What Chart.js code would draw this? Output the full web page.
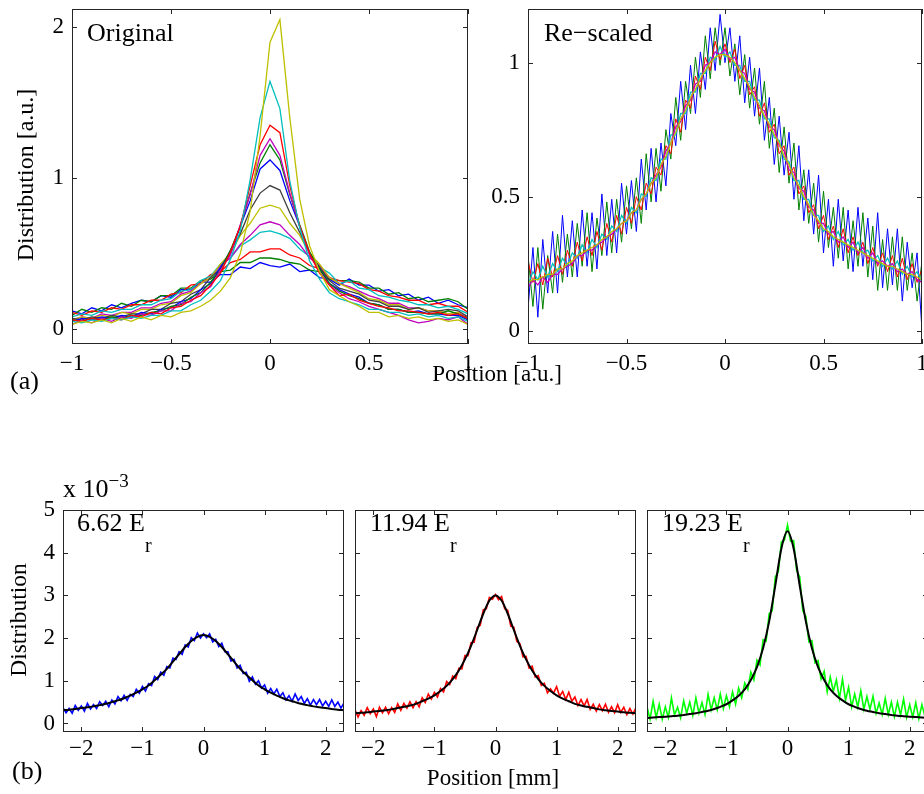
<!DOCTYPE html>
<html>
<head>
<meta charset="utf-8">
<script src="https://cdn.jsdelivr.net/npm/chart.js@4/dist/chart.umd.min.js"></script>
<style>
  html, body { margin: 0; padding: 0; overflow: hidden; background: #fff; }
  body { position: relative; width: 924px; height: 794px; font-family: 'Liberation Serif', 'Times New Roman', serif; color: #000; }
  canvas { position: absolute; }
  .t { position: absolute; white-space: nowrap; line-height: 1; }
  .rot { transform: translate(-50%, -50%) rotate(-90deg); }
  .mid { transform: translateX(-50%); }
</style>
</head>
<body>
<canvas id="c1"></canvas>
<canvas id="c2"></canvas>
<canvas id="c3"></canvas>
<canvas id="c4"></canvas>
<canvas id="c5"></canvas>

<div class="t" style="left:87px;top:20px;font-size:26px">Original</div>
<div class="t" style="left:544px;top:20px;font-size:26px">Re&minus;scaled</div>
<div class="t rot" style="left:25px;top:175px;font-size:24px">Distribution [a.u.]</div>
<div class="t mid" style="left:497px;top:362px;font-size:23px">Position [a.u.]</div>
<div class="t" style="left:10px;top:368px;font-size:26px">(a)</div>

<div class="t" style="left:63px;top:476px;font-size:26px">x 10<span style="font-size:19px;position:relative;top:-10px">&minus;3</span></div>
<div class="t" style="left:77px;top:510px;font-size:26px">6.62 E<span style="font-size:20px;position:relative;top:21px">r</span></div>
<div class="t" style="left:370px;top:510px;font-size:26px">11.94 E<span style="font-size:20px;position:relative;top:21px">r</span></div>
<div class="t" style="left:662px;top:510px;font-size:26px">19.23 E<span style="font-size:20px;position:relative;top:21px">r</span></div>
<div class="t rot" style="left:19px;top:620px;font-size:23.5px">Distribution</div>
<div class="t mid" style="left:493px;top:766px;font-size:23px">Position [mm]</div>
<div class="t" style="left:12px;top:758px;font-size:26px">(b)</div>

<script>
// ---- (a) original profiles, x = -1..1 step 0.05
var X_TOP = [-1,-0.95,-0.9,-0.85,-0.8,-0.75,-0.7,-0.65,-0.6,-0.55,-0.5,-0.45,-0.4,-0.35,-0.3,-0.25,-0.2,-0.15,-0.1,-0.05,0,
  0.05,0.1,0.15,0.2,0.25,0.3,0.35,0.4,0.45,0.5,0.55,0.6,0.65,0.7,0.75,0.8,0.85,0.9,0.95,1];

var orgBlue1 = [.12,.10,.14,.12,.16,.14,.17,.19,.18,.22,.21,.26,.26,.31,.31,.36,.36,.41,.40,.44,.42,
  .41,.43,.38,.39,.34,.33,.29,.33,.29,.29,.25,.26,.22,.23,.19,.21,.17,.19,.16,.14];
var orgGreen1 = [.09,.13,.11,.14,.13,.17,.15,.19,.18,.22,.22,.27,.27,.32,.33,.38,.39,.44,.44,.47,.47,
  .46,.44,.43,.39,.38,.33,.32,.32,.31,.27,.27,.23,.24,.20,.21,.18,.19,.20,.18,.13];
var orgRed1 = [.11,.09,.12,.11,.14,.13,.16,.16,.19,.19,.23,.24,.29,.30,.36,.38,.44,.46,.51,.51,.53,
  .53,.49,.47,.42,.40,.34,.32,.31,.30,.26,.25,.22,.21,.19,.19,.16,.17,.15,.15,.11];
var orgCyan1 = [.08,.10,.09,.12,.11,.13,.13,.16,.16,.19,.20,.25,.26,.32,.35,.43,.47,.55,.59,.64,.65,
  .63,.60,.53,.48,.41,.37,.30,.32,.27,.26,.22,.21,.19,.18,.16,.16,.14,.15,.13,.10];
var orgMag1 = [.06,.08,.07,.10,.09,.11,.11,.14,.14,.17,.18,.23,.25,.30,.34,.42,.47,.56,.62,.69,.71,
  .69,.62,.56,.47,.42,.34,.30,.28,.25,.22,.20,.17,.17,.14,.14,.12,.12,.10,.11,.07];
var orgYel1 = [.06,.08,.07,.09,.08,.11,.10,.13,.13,.16,.17,.22,.24,.30,.34,.43,.50,.62,.70,.80,.82,
  .80,.70,.62,.50,.43,.34,.30,.27,.24,.20,.19,.16,.16,.13,.14,.12,.12,.10,.11,.06];
var orgGrey = [.07,.06,.08,.07,.09,.08,.10,.10,.13,.13,.17,.18,.23,.26,.34,.40,.52,.63,.79,.90,.95,
  .92,.77,.64,.50,.41,.32,.27,.25,.23,.19,.18,.15,.15,.13,.14,.11,.12,.13,.12,.08];
var orgBlue2 = [.05,.07,.06,.08,.07,.09,.08,.11,.10,.13,.14,.18,.20,.26,.30,.41,.50,.68,.85,1.06,1.12,
  1.05,.85,.68,.50,.40,.30,.26,.23,.21,.17,.16,.13,.13,.11,.12,.10,.10,.09,.09,.06];
var orgGreen2 = [.06,.05,.07,.06,.08,.07,.09,.09,.11,.12,.15,.16,.21,.24,.31,.39,.52,.68,.90,1.10,1.22,
  1.12,.89,.69,.51,.40,.30,.25,.22,.20,.17,.16,.13,.13,.11,.11,.10,.10,.12,.10,.07];
var orgMag2 = [.03,.06,.04,.07,.05,.08,.07,.10,.09,.12,.12,.17,.18,.24,.28,.39,.49,.69,.89,1.15,1.26,
  1.15,.90,.68,.49,.38,.29,.24,.20,.18,.15,.13,.11,.09,.06,.04,.05,.07,.06,.08,.03];
var orgRed2 = [.06,.05,.07,.06,.07,.06,.09,.08,.11,.10,.14,.15,.19,.22,.29,.37,.51,.68,.95,1.22,1.35,
  1.30,.95,.68,.50,.37,.29,.22,.23,.19,.17,.15,.14,.12,.12,.11,.10,.11,.09,.10,.07];
var orgCyan2 = [.05,.04,.06,.05,.07,.06,.08,.07,.09,.09,.12,.12,.16,.19,.25,.32,.46,.65,.99,1.40,1.64,
  1.46,.98,.67,.45,.33,.24,.20,.18,.16,.13,.13,.11,.11,.09,.10,.08,.09,.07,.08,.05];
var orgYel2 = [.03,.05,.04,.06,.04,.07,.05,.08,.06,.09,.08,.11,.12,.15,.19,.25,.34,.50,.78,1.28,1.90,
  2.05,1.40,.86,.55,.38,.26,.22,.18,.15,.11,.11,.08,.09,.07,.08,.06,.07,.05,.06,.03];

// ---- (a) re-scaled profiles, x = -1..1 step 0.025
var X_RS = [-1,-0.975,-0.95,-0.925,-0.9,-0.875,-0.85,-0.825,-0.8,-0.775,-0.75,-0.725,-0.7,-0.675,-0.65,-0.625,-0.6,-0.575,
  -0.55,-0.525,-0.5,-0.475,-0.45,-0.425,-0.4,-0.375,-0.35,-0.325,-0.3,-0.275,-0.25,-0.225,-0.2,-0.175,-0.15,-0.125,
  -0.1,-0.075,-0.05,-0.025,0,0.025,0.05,0.075,0.1,0.125,0.15,0.175,0.2,0.225,0.25,0.275,0.3,0.325,0.35,0.375,
  0.4,0.425,0.45,0.475,0.5,0.525,0.55,0.575,0.6,0.625,0.65,0.675,0.7,0.725,0.75,0.775,0.8,0.825,0.85,0.875,
  0.9,0.925,0.95,0.975,1];

var rsBlue = [.08,.31,.05,.34,.14,.37,.14,.43,.20, .41,.20,.45,.24,.44,.23,.51,.28,.49,
  .29,.55,.36,.56,.37,.64,.45,.68,.48, .70,.54,.81,.69,.93,.75,.99,.81,1.04,
  .90,1.13,.97,1.18,1.00,1.13,.93,1.10,.85, 1.02,.80,.98,.71,.87,.62,.80,.58,.74,
  .49,.69,.41,.60,.36,.58,.29,.49,.24, .49,.26,.45,.22,.46,.24,.42,.19,.44,
  .16,.38,.17,.38,.11,.33,.16,.29,.00];
var rsGreen = [.28,.09,.31,.08,.28,.14,.36,.18,.36, .20,.40,.24,.44,.22,.42,.28,.48,.29,
  .49,.33,.54,.38,.57,.40,.66,.48,.68, .52,.75,.64,.87,.71,.93,.81,1.02,.87,
  1.10,.94,1.13,.99,1.13,.95,1.07,.88,1.03, .83,.98,.77,.93,.68,.83,.59,.76,.55,
  .70,.45,.60,.40,.55,.33,.52,.31,.46, .27,.46,.23,.41,.24,.44,.20,.39,.15,
  .34,.15,.35,.15,.35,.15,.29,.11,.26];
var rsRed = [.26,.18,.25,.17,.27,.20,.28,.21,.30, .24,.33,.26,.35,.28,.37,.30,.40,.33,
  .43,.36,.46,.40,.50,.45,.55,.51,.61, .58,.69,.66,.79,.74,.86,.83,.95,.90,
  1.02,.97,1.08,1.01,1.07,1.00,1.05,.94,.99, .88,.91,.80,.85,.74,.77,.66,.69,.58,
  .61,.51,.54,.44,.47,.38,.43,.34,.39, .31,.38,.29,.35,.28,.33,.25,.31,.24,
  .29,.22,.28,.20,.27,.19,.25,.18,.23];
var rsCyan = [.17,.22,.19,.24,.20,.25,.22,.27,.24, .29,.27,.32,.29,.34,.31,.36,.34,.39,
  .37,.43,.40,.46,.44,.51,.50,.57,.56, .64,.64,.73,.73,.81,.81,.89,.89,.96,
  .96,1.02,1.01,1.06,1.02,1.04,.99,.99,.93, .93,.86,.86,.79,.79,.72,.71,.64,.63,
  .56,.56,.49,.49,.43,.43,.37,.39,.34, .37,.32,.34,.30,.33,.29,.30,.26,.28,
  .24,.27,.23,.26,.21,.24,.20,.22,.18];
var rsMag = [.16,.19,.17,.20,.18,.21,.21,.23,.24, .25,.28,.28,.30,.30,.32,.33,.35,.36,
  .38,.40,.41,.44,.45,.49,.51,.55,.58, .61,.67,.70,.76,.78,.84,.86,.92,.93,
  .99,1.00,1.04,1.03,1.05,1.01,1.02,.97,.96, .90,.89,.83,.82,.76,.75,.69,.67,.60,
  .59,.53,.52,.46,.45,.40,.40,.36,.37, .33,.35,.31,.33,.29,.31,.27,.29,.25,
  .26,.24,.25,.22,.23,.21,.22,.19,.18];
var rsYel = [.18,.19,.19,.20,.21,.21,.23,.23,.25, .26,.28,.29,.30,.31,.32,.34,.35,.37,
  .38,.40,.41,.44,.45,.49,.51,.55,.57, .62,.65,.70,.74,.79,.82,.87,.90,.94,
  .97,1.00,1.02,1.03,1.03,1.02,1.00,.97,.94, .91,.87,.84,.80,.77,.73,.70,.65,.62,
  .57,.54,.50,.47,.43,.41,.38,.37,.35, .34,.33,.32,.31,.30,.29,.28,.27,.26,
  .25,.24,.24,.23,.22,.21,.21,.20,.19];

// ---- (b) measured profiles (x 10^-3), x = -2.3..2.3 step 0.05
var X_B = [-2.3,-2.25,-2.2,-2.15,-2.1,-2.05,-2,-1.95,-1.9,-1.85,-1.8,-1.75,-1.7,-1.65,-1.6,-1.55,-1.5,-1.45,-1.4,-1.35,
  -1.3,-1.25,-1.2,-1.15,-1.1,-1.05,-1,-0.95,-0.9,-0.85,-0.8,-0.75,-0.7,-0.65,-0.6,-0.55,-0.5,-0.45,-0.4,-0.35,
  -0.3,-0.25,-0.2,-0.15,-0.1,-0.05,0,0.05,0.1,0.15,0.2,0.25,0.3,0.35,0.4,0.45,0.5,0.55,0.6,0.65,0.7,0.75,0.8,
  0.85,0.9,0.95,1,1.05,1.1,1.15,1.2,1.25,1.3,1.35,1.4,1.45,1.5,1.55,1.6,1.65,1.7,1.75,1.8,1.85,1.9,1.95,2,
  2.05,2.1,2.15,2.2,2.25,2.3];

var blue662 = [.37,.25,.35,.24,.42,.31,.41,.29,.47,.34,.44,.35,.51,.42,.52,.39,.55,.46,.63,.53,
  .66,.54,.68,.63,.80,.71,.87,.76,.93,.89,1.10,1.03,1.20,1.13,1.33,1.30,1.53,1.50,1.68,1.62,
  1.84,1.79,2.01,1.94,2.12,2.00, 2.10,
  2.01,2.10,1.91,1.97,1.80,1.88,1.68,1.68,1.46,1.50,1.30,1.36,1.17,1.20,.99,1.09,.92,1.00,.83,.90,
  .71,.82,.69,.80,.63,.72,.55,.65,.52,.69,.54,.63,.47,.58,.43,.56,.44,.56,.41,.52,.40,.55,.40,.50,.36,.48];
var red1194 = [.32,.15,.30,.19,.37,.23,.34,.16,.38,.25,.38,.23,.37,.26,.46,.31,.47,.36,.51,.37,
  .51,.39,.60,.49,.69,.57,.73,.62,.82,.74,.98,.91,1.11,1.05,1.29,1.28,1.59,1.59,1.89,1.90,
  2.25,2.30,2.66,2.69,2.95,2.91, 3.02,
  2.90,2.97,2.69,2.65,2.28,2.25,1.92,1.87,1.56,1.57,1.30,1.34,1.09,1.12,.89,.94,.72,.81,.71,.86,
  .64,.75,.56,.73,.52,.62,.42,.56,.41,.56,.33,.45,.29,.44,.30,.45,.26,.39,.25,.44,.26,.38,.21,.35,.22,.37];
var green1923 = [.39,.10,.52,.14,.45,.10,.39,.14,.60,.20,.38,.13,.53,.24,.50,.19,.60,.24,.49,.21,
  .68,.32,.60,.32,.69,.35,.65,.39,.74,.45,.83,.60,.95,.80,1.20,1.02,1.48,1.37,1.96,1.93,
  2.57,2.64,3.43,3.56,4.25,4.29, 4.65,
  4.27,4.28,3.58,3.43,2.64,2.51,1.91,1.94,1.42,1.47,1.04,1.22,.74,1.09,.75,1.02,.59,1.04,.54,.85,
  .39,.69,.39,.77,.33,.63,.33,.64,.24,.48,.21,.59,.21,.50,.16,.50,.20,.57,.14,.44,.15,.49,.11,.44,.16,.49];

// ---- (b) fitted curves, x = -2.3..2.3 step 0.1
var X_FIT = [-2.3,-2.2,-2.1,-2,-1.9,-1.8,-1.7,-1.6,-1.5,-1.4,-1.3,-1.2,-1.1,-1,-0.9,-0.8,-0.7,-0.6,-0.5,-0.4,-0.3,-0.2,-0.1,
  0,0.1,0.2,0.3,0.4,0.5,0.6,0.7,0.8,0.9,1,1.1,1.2,1.3,1.4,1.5,1.6,1.7,1.8,1.9,2,2.1,2.2,2.3];
var fit662 = [.31,.32,.34,.36,.38,.40,.43,.46,.50,.54,.59,.65,.72,.80,.89,1.01,1.14,1.28,1.45,1.62,1.79,1.93,2.03,
  2.07,2.03,1.93,1.79,1.62,1.45,1.28,1.14,1.01,.89,.80,.72,.65,.59,.54,.50,.46,.43,.40,.38,.36,.34,.32,.31];
var fit1194 = [.24,.25,.26,.28,.29,.31,.33,.36,.39,.42,.46,.52,.58,.66,.76,.88,1.04,1.24,1.50,1.82,2.19,2.57,2.88,
  3.00,2.88,2.57,2.19,1.82,1.50,1.24,1.04,.88,.76,.66,.58,.52,.46,.42,.39,.36,.33,.31,.29,.28,.26,.25,.24];
var fit1923 = [.13,.14,.15,.16,.17,.18,.20,.22,.24,.27,.30,.34,.39,.45,.54,.65,.80,1.02,1.32,1.76,2.39,3.23,4.10,
  4.50,4.10,3.23,2.39,1.76,1.32,1.02,.80,.65,.54,.45,.39,.34,.30,.27,.24,.22,.20,.18,.17,.16,.15,.14,.13];

// matlab default colours
var mBlue = '#0000ff', mGreen = '#008000', mRed = '#ff0000', mCyan = '#00bfbf',
    mMag = '#bf00bf', mYel = '#bfbf00', mGrey = '#404040';

function pts(xs, ys) {
  return xs.map(function (x, i) { return { x: x, y: ys[i] }; });
}

function line(xs, ys, color, width) {
  return { data: pts(xs, ys), borderColor: color, borderWidth: width || 1, pointRadius: 0, fill: false };
}

function minus(v) {
  return String(v).replace('-', '\u2212');
}

// box round the plot area with inward ticks on all four sides
var boxTicks = {
  id: 'boxTicks',
  afterDraw: function (chart) {
    var ctx = chart.ctx, a = chart.chartArea, sx = chart.scales.x, sy = chart.scales.y;
    var len = 5;
    ctx.save();
    ctx.strokeStyle = '#262626';
    ctx.lineWidth = 1;
    ctx.beginPath();
    sx.ticks.forEach(function (t) {
      var px = Math.round(sx.getPixelForValue(t.value)) + 0.5;
      ctx.moveTo(px, a.bottom); ctx.lineTo(px, a.bottom - len);
      ctx.moveTo(px, a.top); ctx.lineTo(px, a.top + len);
    });
    sy.ticks.forEach(function (t) {
      var py = Math.round(sy.getPixelForValue(t.value)) + 0.5;
      ctx.moveTo(a.left, py); ctx.lineTo(a.left + len, py);
      ctx.moveTo(a.right, py); ctx.lineTo(a.right - len, py);
    });
    ctx.stroke();
    ctx.strokeRect(a.left + 0.5, a.top + 0.5, a.right - a.left - 1, a.bottom - a.top - 1);
    ctx.restore();
  }
};

var tickFont = { family: "'Liberation Serif', 'Times New Roman', serif", size: 23, lineHeight: 1 };

function makePanel(id, box, p) {
  var L = p.showY ? 60 : 6, T = 24, R = 20, B = 42;
  var cv = document.getElementById(id);
  cv.width = box.w + L + R;
  cv.height = box.h + T + B;
  cv.style.left = (box.x - L) + 'px';
  cv.style.top = (box.y - T) + 'px';

  return new Chart(cv, {
    type: 'line',
    data: { datasets: p.datasets },
    options: {
      responsive: false,
      animation: false,
      events: [],
      layout: { padding: { top: T, right: R, left: 0, bottom: 0 } },
      plugins: { legend: { display: false }, tooltip: { enabled: false } },
      elements: { line: { tension: 0 }, point: { radius: 0 } },
      scales: {
        x: {
          type: 'linear', min: p.xMin, max: p.xMax,
          grid: { display: false, drawTicks: false }, border: { display: false },
          ticks: { stepSize: p.xStep, includeBounds: false, autoSkip: false, maxRotation: 0,
                   padding: p.xPad, color: '#000', font: tickFont, callback: minus },
          afterFit: function (s) { s.height = B; }
        },
        y: {
          type: 'linear', min: p.yMin, max: p.yMax,
          grid: { display: false, drawTicks: false }, border: { display: false },
          ticks: { stepSize: p.yStep, includeBounds: false, display: p.showY,
                   padding: 8, color: '#000', font: tickFont, callback: minus },
          afterFit: function (s) { s.width = L; }
        }
      }
    },
    plugins: [boxTicks]
  });
}

// top left: original (first dataset is drawn on top)
var orgSets = [
  line(X_TOP, orgBlue1, mBlue, 1.3), line(X_TOP, orgGreen1, mGreen, 1.3), line(X_TOP, orgRed1, mRed, 1.3),
  line(X_TOP, orgCyan1, mCyan, 1.3), line(X_TOP, orgMag1, mMag, 1.3), line(X_TOP, orgYel1, mYel, 1.3),
  line(X_TOP, orgGrey, mGrey, 1.3), line(X_TOP, orgBlue2, mBlue, 1.3), line(X_TOP, orgGreen2, mGreen, 1.3),
  line(X_TOP, orgMag2, mMag, 1.3), line(X_TOP, orgRed2, mRed, 1.3), line(X_TOP, orgCyan2, mCyan, 1.3),
  line(X_TOP, orgYel2, mYel, 1.3)
].reverse();

makePanel('c1', { x: 72, y: 9, w: 396, h: 335 }, {
  datasets: orgSets, showY: true,
  xMin: -1, xMax: 1, xStep: 0.5, xPad: 8,
  yMin: -0.1, yMax: 2.12, yStep: 1
});

// top right: re-scaled
var rsSets = [
  line(X_RS, rsBlue, mBlue), line(X_RS, rsGreen, mGreen), line(X_RS, rsRed, mRed),
  line(X_RS, rsCyan, mCyan, 1.3), line(X_RS, rsMag, mMag, 1.3), line(X_RS, rsYel, mYel, 1.3)
].reverse();

makePanel('c2', { x: 528, y: 9, w: 394, h: 335 }, {
  datasets: rsSets, showY: true,
  xMin: -1, xMax: 1, xStep: 0.5, xPad: 8,
  yMin: -0.05, yMax: 1.2, yStep: 0.5
});

// bottom row
var bottom = { xMin: -2.3, xMax: 2.3, xStep: 1, xPad: 5, yMin: -0.2, yMax: 5, yStep: 1 };

makePanel('c3', { x: 63, y: 510, w: 281, h: 222 }, Object.assign({}, bottom, {
  showY: true,
  datasets: [Object.assign(line(X_FIT, fit662, '#000', 2), { cubicInterpolationMode: 'monotone' }),
             line(X_B, blue662, mBlue, 1.6)]
}));

makePanel('c4', { x: 355, y: 510, w: 281, h: 222 }, Object.assign({}, bottom, {
  showY: false,
  datasets: [Object.assign(line(X_FIT, fit1194, '#000', 2), { cubicInterpolationMode: 'monotone' }),
             line(X_B, red1194, mRed, 1.6)]
}));

makePanel('c5', { x: 647, y: 510, w: 281, h: 222 }, Object.assign({}, bottom, {
  showY: false,
  datasets: [Object.assign(line(X_FIT, fit1923, '#000', 2), { cubicInterpolationMode: 'monotone' }),
             line(X_B, green1923, '#00ff00', 1.6)]
}));
</script>
</body>
</html>
